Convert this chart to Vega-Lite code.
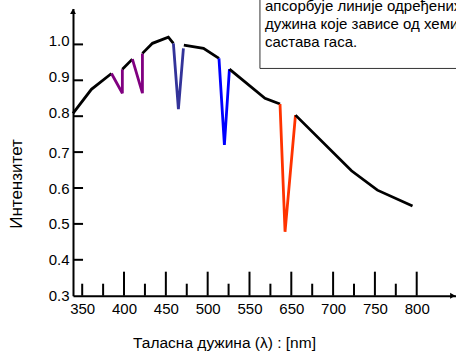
{
  "$schema": "https://vega.github.io/schema/vega-lite/v6.json",
  "width": 383,
  "height": 287.2,
  "autosize": {"type": "none"},
  "padding": {"left": 73, "top": 8.5, "right": 0, "bottom": 57.3},
  "config": {
    "view": {"stroke": null},
    "font": "Liberation Sans",
    "axis": {"grid": false, "ticks": false, "domainColor": "#000000", "domainWidth": 2, "labelColor": "#000000", "titleColor": "#000000", "labelFont": "Liberation Sans", "titleFont": "Liberation Sans", "titleFontWeight": "normal"}
  },
  "datasets": {
    "spectrum": [
      {"seg": 1, "i": 1, "band": "континуум", "nm": 339, "I": 0.808},
      {"seg": 1, "i": 2, "band": "континуум", "nm": 361, "I": 0.875},
      {"seg": 1, "i": 3, "band": "континуум", "nm": 385, "I": 0.919},
      {"seg": 2, "i": 1, "band": "љубичаста", "nm": 385, "I": 0.919},
      {"seg": 2, "i": 2, "band": "љубичаста", "nm": 398, "I": 0.864},
      {"seg": 2, "i": 3, "band": "љубичаста", "nm": 398, "I": 0.931},
      {"seg": 3, "i": 1, "band": "континуум", "nm": 398, "I": 0.931},
      {"seg": 3, "i": 2, "band": "континуум", "nm": 410, "I": 0.959},
      {"seg": 4, "i": 1, "band": "љубичаста", "nm": 410, "I": 0.959},
      {"seg": 4, "i": 2, "band": "љубичаста", "nm": 422, "I": 0.864},
      {"seg": 4, "i": 3, "band": "љубичаста", "nm": 422, "I": 0.975},
      {"seg": 5, "i": 1, "band": "континуум", "nm": 422, "I": 0.975},
      {"seg": 5, "i": 2, "band": "континуум", "nm": 434, "I": 1.003},
      {"seg": 5, "i": 3, "band": "континуум", "nm": 453, "I": 1.02},
      {"seg": 5, "i": 4, "band": "континуум", "nm": 459, "I": 1.003},
      {"seg": 6, "i": 1, "band": "индиго", "nm": 459, "I": 1.003},
      {"seg": 6, "i": 2, "band": "индиго", "nm": 465, "I": 0.82},
      {"seg": 6, "i": 3, "band": "индиго", "nm": 471, "I": 0.989},
      {"seg": 7, "i": 1, "band": "континуум", "nm": 471.5, "I": 0.998},
      {"seg": 7, "i": 2, "band": "континуум", "nm": 495, "I": 0.989},
      {"seg": 7, "i": 3, "band": "континуум", "nm": 513.5, "I": 0.961},
      {"seg": 8, "i": 1, "band": "плава", "nm": 513.5, "I": 0.961},
      {"seg": 8, "i": 2, "band": "плава", "nm": 520, "I": 0.72},
      {"seg": 8, "i": 3, "band": "плава", "nm": 526, "I": 0.931},
      {"seg": 9, "i": 1, "band": "континуум", "nm": 526, "I": 0.931},
      {"seg": 9, "i": 2, "band": "континуум", "nm": 587, "I": 0.85},
      {"seg": 9, "i": 3, "band": "континуум", "nm": 623, "I": 0.834},
      {"seg": 10, "i": 1, "band": "црвена", "nm": 623, "I": 0.834},
      {"seg": 10, "i": 2, "band": "црвена", "nm": 635, "I": 0.478},
      {"seg": 10, "i": 3, "band": "црвена", "nm": 655, "I": 0.803},
      {"seg": 11, "i": 1, "band": "континуум", "nm": 655, "I": 0.803},
      {"seg": 11, "i": 2, "band": "континуум", "nm": 722, "I": 0.648},
      {"seg": 11, "i": 3, "band": "континуум", "nm": 753, "I": 0.594},
      {"seg": 11, "i": 4, "band": "континуум", "nm": 795, "I": 0.55}
    ],
    "majorTicks": [{"nm": 400}, {"nm": 450}, {"nm": 500}, {"nm": 550}, {"nm": 650}, {"nm": 700}, {"nm": 750}, {"nm": 800}],
    "minorTicks": [{"nm": 350}, {"nm": 375}, {"nm": 425}, {"nm": 475}, {"nm": 525}, {"nm": 600}, {"nm": 675}, {"nm": 725}, {"nm": 775}],
    "yTicks": [{"I": 0.4}, {"I": 0.5}, {"I": 0.6}, {"I": 0.7}, {"I": 0.8}, {"I": 0.9}, {"I": 1.0}]
  },
  "layer": [
    {
      "data": {"values": [{}]},
      "mark": {"type": "rect", "fill": "#ffffff", "stroke": "#333333", "strokeWidth": 1},
      "encoding": {
        "x": {"datum": 575, "type": "quantitative", "scale": {"domain": [339, 550, 650, 847], "range": [0, 176.5, 218.3, 383], "nice": false, "zero": false}},
        "x2": {"datum": 900},
        "y": {"datum": 0.933, "type": "quantitative", "scale": {"domain": [0.3, 1.1], "nice": false, "zero": false}},
        "y2": {"datum": 1.4}
      }
    },
    {
      "data": {"values": [{}]},
      "mark": {"type": "text", "text": ["апсорбује линије одређених таласних", "дужина које зависе од хемијског", "састава гаса."], "align": "left", "baseline": "alphabetic", "lineHeight": 18.2, "fontSize": 15, "font": "Liberation Sans", "color": "#000000"},
      "encoding": {
        "x": {"datum": 587, "type": "quantitative"},
        "y": {"datum": 1.093, "type": "quantitative"}
      }
    },
    {
      "data": {"name": "majorTicks"},
      "mark": {"type": "rule", "color": "#000000", "strokeWidth": 2},
      "encoding": {
        "x": {"field": "nm", "type": "quantitative"},
        "y": {"datum": 0.3, "type": "quantitative"},
        "y2": {"datum": 0.3669}
      }
    },
    {
      "data": {"name": "minorTicks"},
      "mark": {"type": "rule", "color": "#000000", "strokeWidth": 2},
      "encoding": {
        "x": {"field": "nm", "type": "quantitative"},
        "y": {"datum": 0.3, "type": "quantitative"},
        "y2": {"datum": 0.3334}
      }
    },
    {
      "data": {"name": "yTicks"},
      "mark": {"type": "rule", "color": "#000000", "strokeWidth": 2},
      "encoding": {
        "x": {"datum": 339, "type": "quantitative"},
        "x2": {"datum": 351},
        "y": {"field": "I", "type": "quantitative"}
      }
    },
    {
      "data": {"name": "spectrum"},
      "mark": {"type": "line", "strokeWidth": 2.8},
      "encoding": {
        "x": {
          "field": "nm", "type": "quantitative",
          "scale": {"domain": [339, 550, 650, 847], "range": [0, 176.5, 218.3, 383], "nice": false, "zero": false},
          "axis": {
            "values": [350, 400, 450, 500, 550, 650, 700, 750, 800],
            "labelFontSize": 15,
            "labelPadding": 6,
            "labelFlush": false,
            "labelOverlap": false,
            "title": "Таласна дужина (λ) : [nm]",
            "titleFontSize": 15.5,
            "titleX": 151,
            "titleY": 46.6,
            "titleAlign": "center",
            "titleBaseline": "middle"
          }
        },
        "y": {
          "field": "I", "type": "quantitative",
          "scale": {"domain": [0.3, 1.1], "nice": false, "zero": false},
          "axis": {
            "values": [0.3, 0.4, 0.5, 0.6, 0.7, 0.8, 0.9, 1.0],
            "format": ".1f",
            "labelFontSize": 15,
            "labelPadding": 4,
            "labelBaseline": "middle",
            "labelOffset": {"condition": {"test": "datum.value >= 0.75", "value": -4}, "value": 0},
            "labelFlush": false,
            "labelOverlap": false,
            "title": "Интензитет",
            "titleFontSize": 17,
            "titleX": -57,
            "titleY": 175,
            "titleAlign": "center",
            "titleBaseline": "middle"
          }
        },
        "color": {
          "field": "band", "type": "nominal",
          "scale": {"domain": ["континуум", "љубичаста", "индиго", "плава", "црвена"], "range": ["#000000", "#800080", "#333399", "#0000ff", "#ff3300"]},
          "legend": null
        },
        "detail": {"field": "seg"},
        "order": {"field": "i"}
      }
    },
    {
      "data": {"values": [{}]},
      "mark": {"type": "point", "shape": "triangle-up", "filled": true, "size": 35, "color": "#000000", "opacity": 1},
      "encoding": {
        "x": {"datum": 339, "type": "quantitative"},
        "y": {"datum": 1.092, "type": "quantitative"}
      }
    },
    {
      "data": {"values": [{}]},
      "mark": {"type": "point", "shape": "triangle-right", "filled": true, "size": 35, "color": "#000000", "opacity": 1},
      "encoding": {
        "x": {"datum": 843, "type": "quantitative"},
        "y": {"datum": 0.3, "type": "quantitative"}
      }
    }
  ]
}
